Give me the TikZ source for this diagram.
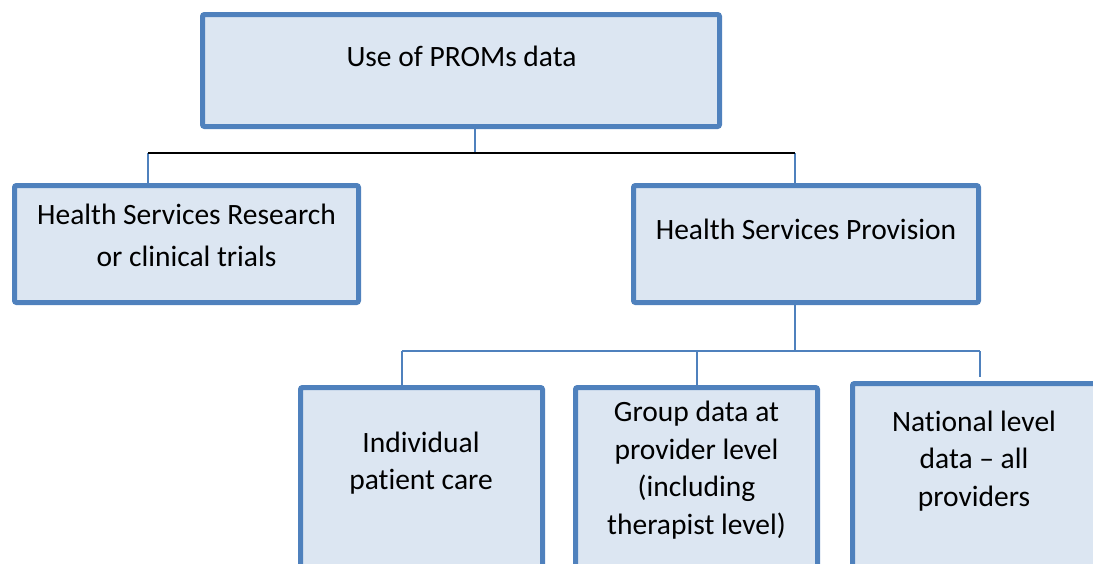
\documentclass[tikz,border=0pt]{standalone}
\usepackage{fontspec}
\setmainfont{Carlito}[Ligatures={TeX,NoCommon}]
\definecolor{boxfill}{HTML}{DCE6F2}
\definecolor{boxline}{HTML}{4F81BD}
\begin{document}
\begin{tikzpicture}[x=1pt,y=-1pt,
  box/.style={draw=boxline,fill=boxfill,line width=5pt,rounded corners=2pt,inner sep=0pt},
  txt/.style={align=center,inner sep=0pt,font=\fontsize{29.5}{37.5}\selectfont},
  conn/.style={draw=boxline,line width=2pt},
  blk/.style={draw=black,line width=2.5pt}]
\useasboundingbox (0,0) rectangle (1093,563);
\begin{scope}
\clip (0,0) rectangle (1093,563);
\node[box,minimum width=517pt,minimum height=112pt] (top) at (461,70.5) {};
\node[box,minimum width=344pt,minimum height=117pt] (left) at (186.5,244) {};
\node[box,minimum width=345pt,minimum height=117pt] (right) at (806,244) {};
\node[box,minimum width=242pt,minimum height=230pt] (b1) at (421.5,502.5) {};
\node[box,minimum width=242pt,minimum height=230pt] (b2) at (696.5,502.5) {};
\node[box,minimum width=265pt,minimum height=234pt] (b3) at (985,500.5) {};

\node[txt] (ttop) at (461.5,56) {Use of PROMs data};
\node[txt,font=\fontsize{29.5}{42}\selectfont] (tleft) at (186.5,235) {Health Services Research\\or clinical trials};
\node[txt] (tright) at (806,229) {Health Services Provision};
\node[txt] (tb1) at (421,463) {Individual\\patient care};
\node[txt] (tb2) at (696.5,470) {Group data at\\provider level\\(including\\therapist level)};
\node[txt] (tb3) at (974,461) {National level\\data -- all\\providers};

\coordinate (j1) at (475,153);
\coordinate (hl) at (148,153);
\coordinate (hr) at (795,153);
\coordinate (j2) at (795,351);
\coordinate (bl) at (402,351);
\coordinate (bm) at (697,351);
\coordinate (br) at (980,351);

\draw[conn] (top.south -| j1) -- (j1);
\draw[conn] (hl) -- (hl |- left.north);
\draw[conn] (hr) -- (hr |- right.north);
\draw[blk] (hl) -- (hr);
\draw[conn] (right.south -| j2) -- (j2);
\draw[conn] (bl) -- (br);
\draw[conn] (bl) -- (bl |- b1.north);
\draw[conn] (bm) -- (bm |- b2.north);
\draw[conn] (br) -- ([yshift=4pt]br |- b3.north);
\end{scope}
\end{tikzpicture}
\end{document}
